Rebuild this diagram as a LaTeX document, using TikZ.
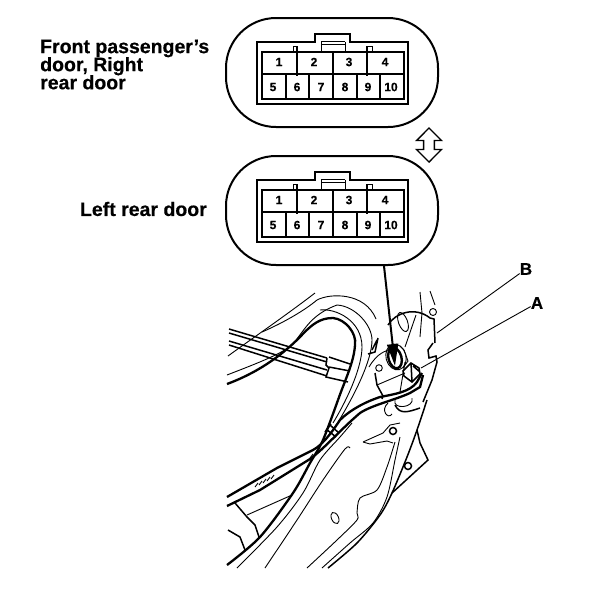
\documentclass[tikz,border=0pt]{standalone}
\usepackage{fontspec}
\setmainfont{Liberation Sans}[BoldFeatures={FakeBold=0.5}]
\usetikzlibrary{shapes.arrows,arrows.meta}
\tikzset{capnode/.style={font=\fontsize{19.5}{17}\selectfont\bfseries, inner sep=0pt, align=left},
pinnode/.style={font=\fontsize{12}{12}\selectfont\bfseries, inner sep=0pt},
lensnode/.style={draw=black, line width=2pt, rounded corners=50pt, minimum width=212pt, minimum height=109pt, inner sep=0pt},
thin line/.style={line width=0.9pt},
mid line/.style={line width=1.5pt},
thick line/.style={line width=2.3pt},}

\begin{document}
\begin{tikzpicture}[x=1pt,y=-1pt]
\useasboundingbox (0,0) rectangle (608,590);
\node [capnode, anchor=north west] (front) at (40,39.5) {Front passenger's\\[-1.2pt]door, Right\\[-1.2pt]rear door};
\node [capnode, anchor=east] (left) at (207,209) {Left rear door};
\node [lensnode] (upper) at (332,72.5) {};
\node [lensnode] (lower) at (332,210.5) {};
\node [draw=black, line width=1.4pt, fill=white, shape=double arrow, rotate=90, minimum height=34pt, minimum width=25pt, double arrow head extend=3.5pt, inner sep=2pt] (swap) at (429,145) {};
\foreach \c/\dy in {u/0,l/138}{
\begin{scope}[yshift=-\dy pt]
\draw [mid line] (257,42) -- (257,104) -- (408,104) -- (408,42) -- (350,42) -- (350,34) -- (315,34) -- (315,42) -- cycle;
\draw [thin line] (321,42) -- (321,51) (345,42) -- (345,51) (321,41) -- (345,41) (321,44) -- (345,44);
\draw [mid line] (262,52) rectangle (404,99);
\draw [mid line] (262,74) -- (404,74);
\draw [mid line] (333,52) -- (333,74);
\draw [mid line] (297,46) -- (297,76) (367,46) -- (367,76);
\draw [thin line] (293,52) -- (293,46) -- (297,46) (367,46) -- (372,46) -- (372,52);
\foreach \x in {286,309,333,357,380} \draw [mid line] (\x,74) -- (\x,99);
\foreach \n/\x in {1/279,2/314,3/349,4/385} \node [pinnode] (\c\n) at (\x,62) {\n};
\foreach \n/\x in {5/273,6/297,7/321,8/345,9/368,10/391} \node [pinnode] (\c\n) at (\x,87) {\n};
\end{scope}
}
\node [capnode, font=\fontsize{17}{16}\selectfont\bfseries] (B) at (526,269) {B};
\node [capnode, font=\fontsize{17}{16}\selectfont\bfseries] (A) at (537,303) {A};
\coordinate (grommet) at (395,366);
\coordinate (plateB) at (437,333);
\coordinate (plugA) at (421,368);
\draw [line width=2pt, -{Triangle[length=22pt,width=11pt]}] (lower.south -| 384,0) -- (grommet);
\draw [thin line] (B) -- (plateB);
\draw [thin line] (A) -- (plugA);
%door cables
\draw [mid line] (229,329) -- (327,358) (229,333) -- (327,362) (229,341) -- (327,370) (229,345) -- (327,376);
\draw [mid line] (329,357) -- (350,364) (327,358) -- (326,365) -- (329,368) -- (326,377) -- (348,382) (329,367) -- (350,371);
%arch
\draw [thick line] (227,384) .. controls (262,371) and (285,352) .. (300,337) .. controls (312,324) and (320,318) .. (333,318) .. controls (345,319) and (357,333) .. (355,345) .. controls (354,362) and (345,380) .. (338,400);
\draw [thin line] (228,356) .. controls (250,340) and (285,316) .. (315,293);
\draw [thin line] (262,332) .. controls (285,322) and (305,310) .. (317,300) .. controls (330,293) and (365,292) .. (376,319);
\draw [thin line] (227,375) .. controls (250,366) and (280,355) .. (292,345) .. controls (305,330) and (310,315) .. (337,305) .. controls (355,306) and (372,325) .. (372,340) .. controls (372,360) and (355,395) .. (335,427);
\draw [thin line] (320,310) .. controls (335,308) and (362,320) .. (362,347) .. controls (362,365) and (350,395) .. (333,423);
%plate
\draw [mid line] (388,325) .. controls (395,313) and (415,306) .. (430,318) -- (434,319) -- (435,343) (433,343) -- (428,350) -- (429,358) -- (436,356) -- (437,362) -- (432,380) -- (423,402);
\draw [mid line] (378,338) -- (375,352) -- (368,354) (377,340) -- (372,350);
\draw [thin line] (369,367) .. controls (378,352) and (385,352) .. (390,349) (400,346) -- (404,350) -- (408,361) -- (403,368);
\draw [mid line] (375,373) -- (377,385) -- (383,396) -- (382,399);
\draw [thin line] (377,385) -- (405,373);
\draw [thin line] (420,292) -- (422,313) -- (420,337) (430,291) -- (435,305) (416,315) -- (405,347);
\draw [thin line, rotate around={20:(403,322)}] (403,322) ellipse (4.5 and 10);
\draw [thin line] (433,312) circle (3.5) (379,368) circle (3.3);
\draw [line width=2.4pt, rotate around={15:(395,358)}] (395,358) ellipse (6.5 and 10.5);
\draw [thin line, rotate around={15:(396,357)}] (396,357) ellipse (10 and 13);
%plug
\draw [mid line] (403,371) -- (411,363) -- (419,368) -- (420,374) -- (412,382) -- (404,376) -- cycle (411,363) -- (412,382) (413,366) -- (420,372);
%harness
\draw [thick line] (227,497) -- (277,468) -- (313,450) .. controls (322,445) and (330,435) .. (340,420) .. controls (350,410) and (365,402) .. (380,397) .. controls (395,394) and (410,392) .. (417,382) -- (422,373);
\draw [thick line] (227,506) -- (260,490) -- (310,459) .. controls (325,448) and (340,430) .. (360,413) .. controls (372,405) and (395,400) .. (410,393) -- (420,387) -- (423,375);
\foreach \x/\y in {258/483,262/481,266/479,270/477,274/475,313/454,317/452,321/449,325/446}
\draw [thin line] (\x,\y) -- ++(-3,4);
\draw [mid line] (330,425) -- (339,433) (326,429) -- (336,437) (331,424) -- (325,432);
%panel
\draw [thick line] plot [smooth] coordinates {(338,400) (323,440) (310,463) (293,493) (260,537) (227,565)};
\draw [thin line] plot [smooth] coordinates {(352,423) (340,437) (320,460) (303,493) (277,527) (237,568)};
\draw [thin line] plot [smooth] coordinates {(350,448) (345,449) (323,480) (297,520) (265,568)};
\draw [thin line] plot [smooth] coordinates {(395,442) (387,467) (377,490) (360,498) (357,513) (357,520) (337,540) (307,568)};
\draw [thin line] plot [smooth] coordinates {(400,437) (395,460) (387,497) (373,523) (350,543) (322,568)};
\draw [mid line] plot [smooth] coordinates {(427,400) (417,430) (407,457) (392,493) (380,515) (357,543) (328,568)};
\draw [mid line] (417,430) -- (420,443) -- (428,460) -- (392,493);
\draw [mid line] (408,466) circle (3.5);
\draw [mid line] (393,431) circle (3.5);
\draw [thin line] (363,442) -- (383,433) -- (390,425) -- (400,423) (363,442) -- (370,444) -- (387,441) -- (393,443);
\draw [thin line, rotate around={25:(335,518)}] (335,518) ellipse (3.5 and 6);
\draw [mid line] (235,503) -- (247,517) -- (255,525) -- (259,537);
\draw [thin line] (247,515) -- (292,495);
\draw [mid line] (228,530) -- (240,537) -- (245,550);
\draw [mid line] (395,405) .. controls (400,415) and (408,412) .. (420,408);
\draw [thin line] (388,403) .. controls (380,410) and (388,420) .. (392,414) (395,400) .. controls (392,410) and (415,408) .. (412,398);
\draw [thin line] (405,362) -- (400,392);
\end{tikzpicture}
\end{document}
